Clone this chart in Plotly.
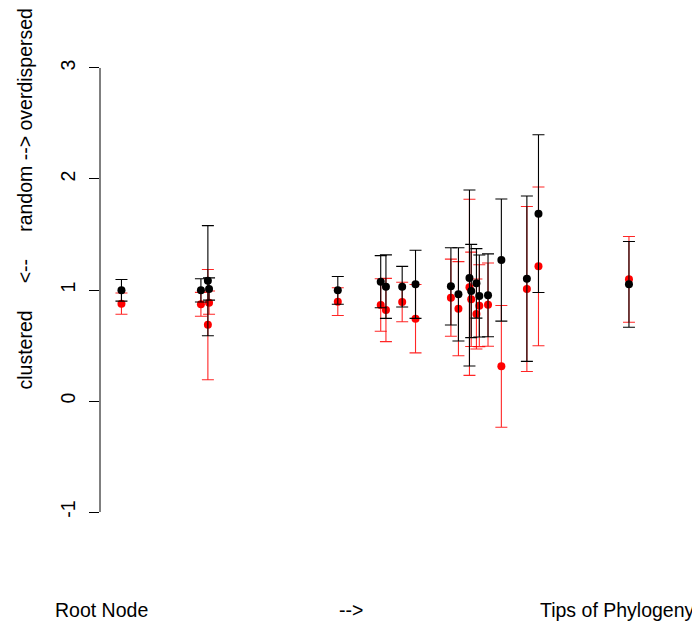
import plotly.graph_objects as go

# Node positions along the phylogeny (relative depth, root=0 .. tips=100)
node_depth = [3.7, 17.4, 18.6, 18.8, 41.0, 48.4, 49.3, 52.1, 54.4, 60.5,
              61.8, 63.7, 64.0, 64.9, 65.4, 66.9, 69.2, 73.6, 75.6, 91.2]

# Black series: mean and error half-width
black_mean = [0.997, 0.997, 1.084, 1.009, 0.997, 1.075, 1.030, 1.030, 1.051, 1.033,
              0.961, 1.108, 0.991, 1.060, 0.946, 0.952, 1.270, 1.102, 1.688, 1.051]
black_err = [0.097, 0.105, 0.496, 0.100, 0.125, 0.235, 0.286, 0.183, 0.307, 0.348,
             0.420, 0.793, 0.420, 0.313, 0.369, 0.373, 0.550, 0.745, 0.710, 0.386]

# Red series: mean and error half-width
red_mean = [0.877, 0.871, 0.688, 0.886, 0.895, 0.865, 0.820, 0.892, 0.742, 0.931,
            0.832, 1.024, 0.916, 0.784, 0.859, 0.868, 0.312, 1.009, 1.213, 1.096]
red_err = [0.096, 0.108, 0.497, 0.105, 0.125, 0.237, 0.285, 0.178, 0.308, 0.347,
           0.424, 0.793, 0.425, 0.315, 0.369, 0.375, 0.548, 0.743, 0.715, 0.386]

y_ticks = [-1, 0, 1, 2, 3]
NB = "\u00a0"
y_title = "clustered" + NB * 5 + "<--" + NB * 5 + "random --> overdispersed"
bottom_labels = ["Root Node", "-->", "Tips of Phylogeny"]
bottom_label_pos = [0.002, 0.433, 0.893]

FONT = "Liberation Sans, Arial, Helvetica, sans-serif"
FS = 19.5

fig = go.Figure()
fig.add_trace(go.Scatter(
    x=node_depth, y=red_mean, mode="markers",
    marker=dict(color="#FF0000", size=8),
    error_y=dict(type="data", array=red_err, color="rgba(255,0,0,0.85)",
                 thickness=1.1, width=6),
    showlegend=False, hoverinfo="skip"))
fig.add_trace(go.Scatter(
    x=node_depth, y=black_mean, mode="markers",
    marker=dict(color="#000000", size=8),
    error_y=dict(type="data", array=black_err, color="#000000",
                 thickness=1.1, width=6),
    showlegend=False, hoverinfo="skip"))

# y axis line only spanning the tick range (R style)
fig.add_shape(type="line", xref="paper", yref="y", x0=0, x1=0,
              y0=min(y_ticks), y1=max(y_ticks), line=dict(color="black", width=1))

annotations = [dict(text=y_title, xref="paper", yref="paper", x=-0.131, y=0.6906,
                    textangle=-90, showarrow=False, xanchor="center", yanchor="middle",
                    font=dict(size=FS, color="black", family=FONT))]
for lab, pos in zip(bottom_labels, bottom_label_pos):
    annotations.append(dict(text=lab, xref="paper", yref="paper", x=pos, y=-0.167,
                            showarrow=False, xanchor="center", yanchor="middle",
                            font=dict(size=FS, color="black", family=FONT)))

# page has an 8px body margin: figure is 8px smaller, left/top margins reduced by 8
fig.update_layout(
    width=692, height=619,
    margin=dict(l=92, r=20, t=42, b=97),
    paper_bgcolor="white", plot_bgcolor="white",
    font=dict(family=FONT, color="black", size=FS),
    xaxis=dict(range=[0, 100], visible=False),
    yaxis=dict(range=[-1.162, 3.162], tickvals=y_ticks, ticktext=[str(t) for t in y_ticks],
               tickangle=-90, ticks="outside", ticklen=10, tickwidth=1, tickcolor="black",
               showgrid=False, zeroline=False, showline=False,
               tickfont=dict(size=FS, color="black", family=FONT),
               ticklabelstandoff=6),
    annotations=annotations,
)

fig.write_html("out.html")
